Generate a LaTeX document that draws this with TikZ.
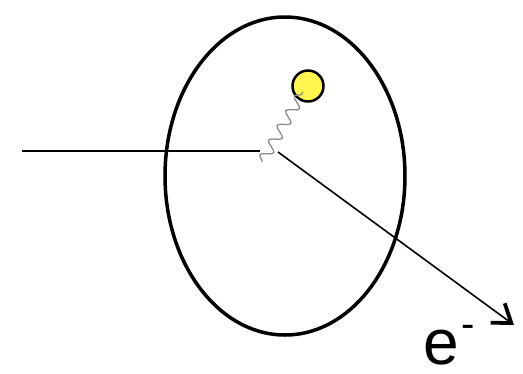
\documentclass[tikz,border=0pt]{standalone}
\usepackage{fontspec}
\setmainfont{Liberation Sans}
\usetikzlibrary{arrows.meta,decorations.pathmorphing,shapes.geometric}
\begin{document}
\begin{tikzpicture}[x=1pt,y=-1pt,
  outline/.style={draw=black,line width=3.5pt},
  ray/.style={draw=black,line width=1.6pt},
  photon/.style={draw=black!45,line width=1.3pt,decorate,decoration={snake,amplitude=5.5pt,segment length=17pt}}]
\useasboundingbox (0,0) rectangle (523,373);
\node[outline,ellipse,minimum width=240pt,minimum height=318pt,inner sep=0pt] (atom) at (285,176) {};
\node[outline,circle,fill=yellow!70!white,minimum size=31pt,inner sep=0pt,line width=2.5pt] (ball) at (308,86) {};
\coordinate (in) at (22,151);
\coordinate (hit) at (260,151);
\coordinate (start) at (278,152);
\coordinate (end) at (514,325);
\coordinate (wbot) at (262,162);
\coordinate (wtop) at (303,92);
\draw[ray] (in) -- (hit);
\draw[ray,-{Straight Barb[length=17pt,width=24pt,line width=3.8pt]}] (start) -- (end);
\draw[photon] (wbot) -- (wtop);
\node[font=\fontsize{64}{70}\selectfont,inner sep=0pt,anchor=base west] (e) at (423,364) {e\hspace{3pt}\raisebox{0.42em}{\fontsize{40}{40}\selectfont -}};
\end{tikzpicture}
\end{document}
